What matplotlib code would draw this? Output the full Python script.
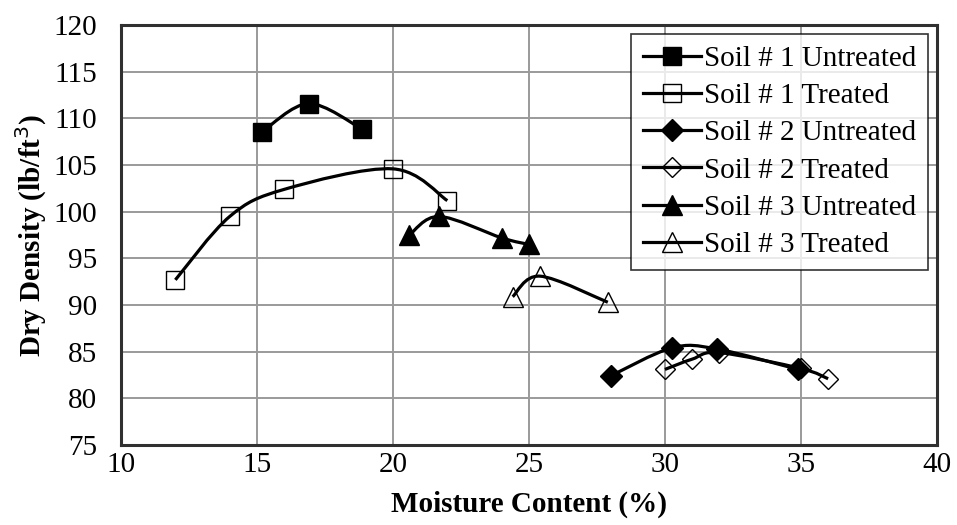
import numpy as np
import matplotlib.pyplot as plt
from matplotlib.path import Path
from matplotlib.patches import PathPatch
from matplotlib.lines import Line2D
from matplotlib.transforms import IdentityTransform

plt.rcParams['font.family'] = ['Liberation Serif', 'DejaVu Serif']

# data
s1_untr_x = [15.2, 16.9, 18.85]
s1_untr_y = [108.6, 111.6, 108.9]
s1_tr_x = [12.0, 14.0, 16.0, 20.0, 22.0]
s1_tr_y = [92.7, 99.5, 102.4, 104.6, 101.2]
s2_untr_x = [28.0, 30.25, 31.9, 34.9]
s2_untr_y = [82.4, 85.4, 85.3, 83.1]
s2_tr_x = [30.0, 31.0, 32.0, 35.0, 36.0]
s2_tr_y = [83.1, 84.2, 84.9, 83.2, 82.1]
s3_untr_x = [20.6, 21.7, 24.0, 25.0]
s3_untr_y = [97.5, 99.5, 97.2, 96.5]
s3_tr_x = [24.4, 25.4, 27.9]
s3_tr_y = [90.9, 93.1, 90.3]

labels = ["Soil # 1 Untreated", "Soil # 1 Treated", "Soil # 2 Untreated",
          "Soil # 2 Treated", "Soil # 3 Untreated", "Soil # 3 Treated"]

series = [
    (s1_untr_x, s1_untr_y, 's', 'black', 13),
    (s1_tr_x, s1_tr_y, 's', 'none', 12.5),
    (s2_untr_x, s2_untr_y, 'D', 'black', 11),
    (s2_tr_x, s2_tr_y, 'D', 'none', 10.5),
    (s3_untr_x, s3_untr_y, '^', 'black', 15),
    (s3_tr_x, s3_tr_y, '^', 'none', 14),
]

fig = plt.figure(figsize=(9.57, 5.25), dpi=100)
ax = fig.add_axes([0.1264, 0.1524, 0.979 - 0.1264, 0.952 - 0.1524])
ax.set_xlim(10, 40)
ax.set_ylim(75, 120)
ax.set_xticks(np.arange(10, 41, 5))
ax.set_yticks(np.arange(75, 121, 5))
ax.grid(True, color='#9a9a9a', linewidth=1.4)
ax.set_axisbelow(True)
ax.tick_params(length=0, labelsize=21)
ax.tick_params(axis='y', pad=17)
ax.tick_params(axis='x', pad=5)
for sp in ax.spines.values():
    sp.set_linewidth(2.2)
    sp.set_color('#303030')


def smooth_curve(xs, ys):
    # excel-style smoothed line, built as bezier segments in pixel space
    pts = ax.transData.transform(np.column_stack([xs, ys]))
    n = len(pts)
    verts = [pts[0]]
    codes = [Path.MOVETO]
    for i in range(n - 1):
        p0 = pts[i - 1] if i > 0 else pts[i]
        p1 = pts[i]
        p2 = pts[i + 1]
        p3 = pts[i + 2] if i + 2 < n else pts[i + 1]
        c1 = p1 + (p2 - p0) / 6.0
        c2 = p2 - (p3 - p1) / 6.0
        verts += [c1, c2, p2]
        codes += [Path.CURVE4] * 3
    return PathPatch(Path(verts, codes), facecolor='none', edgecolor='black',
                     linewidth=2.3, transform=IdentityTransform(), zorder=3)


handles = []
for (xs, ys, mk, fc, ms), lab in zip(series, labels):
    ax.add_patch(smooth_curve(xs, ys))
    ax.plot(xs, ys, linestyle='none', marker=mk, markersize=ms,
            markerfacecolor=fc, markeredgecolor='black',
            markeredgewidth=1.0, zorder=4)
    handles.append(Line2D([], [], color='black', linewidth=2.3, marker=mk,
                          markersize=ms, markerfacecolor=fc,
                          markeredgecolor='black', markeredgewidth=1.0))

leg = ax.legend(handles, labels, loc='upper right', fontsize=21,
                frameon=True, fancybox=False, handlelength=2.0,
                handletextpad=0.1, labelspacing=0.37, borderpad=0.4,
                borderaxespad=0.3)
leg.get_frame().set_edgecolor('black')
leg.get_frame().set_linewidth(1.2)

ax.set_xlabel("Moisture Content (%)", fontsize=21, fontweight='bold', labelpad=9)
ax.set_ylabel("Dry Density (lb/ft$^3$)", fontsize=21, fontweight='bold', labelpad=3)

fig.savefig("out.png", dpi=100)
